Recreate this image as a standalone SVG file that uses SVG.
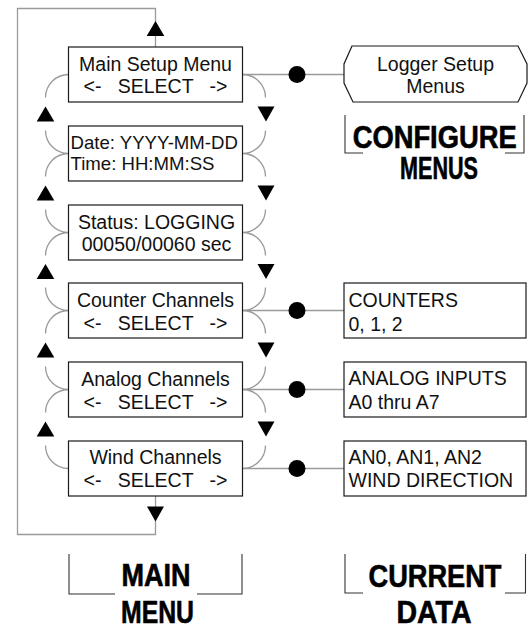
<svg xmlns="http://www.w3.org/2000/svg" xmlns:xlink="http://www.w3.org/1999/xlink" width="532" height="626" viewBox="0 0 532 626">
<style>
.bg{fill:#ffffff}
.box{fill:#ffffff;stroke:#1a1a1a;stroke-width:1.2}
.gl{fill:none;stroke:#9a9a9a;stroke-width:1.3}
.br{fill:none;stroke:#333333;stroke-width:1.1}
.t{font-family:"Liberation Sans",Arial,sans-serif;font-size:19.5px;fill:#111111}
.tc{text-anchor:middle}
.b{font-family:"Liberation Sans",Arial,sans-serif;font-size:31px;font-weight:bold;fill:#000000;stroke:#000000;stroke-width:0.6;text-anchor:middle}
.ar{fill:#000000}
.dot{fill:#000000}
</style>
<defs>
<path id="up" d="M0,-7.5 L8.8,7.5 L-8.8,7.5 Z"/>
<path id="dn" d="M0,7.5 L8.5,-7.5 L-8.5,-7.5 Z"/>
</defs>
<rect class="bg" x="0" y="0" width="532" height="626"/>
<g id="connectors">
<polyline class="gl" points="155.5,47 155.5,8.5 17.5,8.5 17.5,534.5 155.5,534.5 155.5,496"/>
<use href="#up" xlink:href="#up" class="ar" x="155.5" y="28.5"/>
<use href="#dn" xlink:href="#dn" class="ar" x="155.5" y="514"/>
<path class="gl" d="M68.5,74.5 A23,23 0 0 0 45.5,97.5 M45.5,130.5 A23,23 0 0 0 68.5,153.5 M68.5,153.5 A23,23 0 0 0 45.5,176.5 M45.5,209.5 A23,23 0 0 0 68.5,232.5 M68.5,232.5 A23,23 0 0 0 45.5,255.5 M45.5,287.5 A23,23 0 0 0 68.5,310.5 M68.5,310.5 A23,23 0 0 0 45.5,333.5 M45.5,366.5 A23,23 0 0 0 68.5,389.5 M68.5,389.5 A23,23 0 0 0 45.5,412.5 M45.5,445.5 A23,23 0 0 0 68.5,468.5"/>
<path class="gl" d="M242.5,74.5 A23,23 0 0 1 265.5,97.5 M265.5,130.5 A23,23 0 0 1 242.5,153.5 M242.5,153.5 A23,23 0 0 1 265.5,176.5 M265.5,209.5 A23,23 0 0 1 242.5,232.5 M242.5,232.5 A23,23 0 0 1 265.5,255.5 M265.5,287.5 A23,23 0 0 1 242.5,310.5 M242.5,310.5 A23,23 0 0 1 265.5,333.5 M265.5,366.5 A23,23 0 0 1 242.5,389.5 M242.5,389.5 A23,23 0 0 1 265.5,412.5 M265.5,445.5 A23,23 0 0 1 242.5,468.5"/>
<use href="#up" xlink:href="#up" class="ar" x="45.5" y="114"/>
<use href="#up" xlink:href="#up" class="ar" x="45.5" y="193"/>
<use href="#up" xlink:href="#up" class="ar" x="45.5" y="271.5"/>
<use href="#up" xlink:href="#up" class="ar" x="45.5" y="350"/>
<use href="#up" xlink:href="#up" class="ar" x="45.5" y="429"/>
<use href="#dn" xlink:href="#dn" class="ar" x="266" y="114"/>
<use href="#dn" xlink:href="#dn" class="ar" x="266" y="193"/>
<use href="#dn" xlink:href="#dn" class="ar" x="266" y="271.5"/>
<use href="#dn" xlink:href="#dn" class="ar" x="266" y="350"/>
<use href="#dn" xlink:href="#dn" class="ar" x="266" y="429"/>
<path class="gl" d="M242.5,74.5 H344 M242.5,310.5 H344 M242.5,389.5 H344 M242.5,468.5 H344"/>
<circle class="dot" cx="297" cy="74.5" r="8.5"/>
<circle class="dot" cx="297" cy="310.5" r="8.5"/>
<circle class="dot" cx="297" cy="389.5" r="8.5"/>
<circle class="dot" cx="297" cy="468.5" r="8.5"/>
</g>
<g id="main-setup">
<rect class="box" x="68.5" y="47" width="174" height="55"/>
<text class="t tc" x="155.5" y="70.5">Main Setup Menu</text>
<text class="t tc" x="155.5" y="93" xml:space="preserve" style="white-space:pre">&lt;-   SELECT   -&gt;</text>
</g>
<g id="date-time">
<rect class="box" x="68.5" y="126" width="174" height="55"/>
<text class="t" x="70.5" y="149" style="font-size:18.6px">Date: YYYY-MM-DD</text>
<text class="t" x="70.5" y="169.5" style="font-size:18.6px">Time: HH:MM:SS</text>
</g>
<g id="status">
<rect class="box" x="68.5" y="205" width="174" height="55"/>
<text class="t tc" x="156.5" y="228.5">Status: LOGGING</text>
<text class="t tc" x="156.5" y="251">00050/00060 sec</text>
</g>
<g id="counter-channels">
<rect class="box" x="68.5" y="283" width="174" height="55"/>
<text class="t tc" x="155.5" y="306.5">Counter Channels</text>
<text class="t tc" x="155.5" y="329.5" xml:space="preserve" style="white-space:pre">&lt;-   SELECT   -&gt;</text>
</g>
<g id="analog-channels">
<rect class="box" x="68.5" y="362" width="174" height="55"/>
<text class="t tc" x="155.5" y="385.5">Analog Channels</text>
<text class="t tc" x="155.5" y="408.5" xml:space="preserve" style="white-space:pre">&lt;-   SELECT   -&gt;</text>
</g>
<g id="wind-channels">
<rect class="box" x="68.5" y="441" width="174" height="55"/>
<text class="t tc" x="155.5" y="464">Wind Channels</text>
<text class="t tc" x="155.5" y="487" xml:space="preserve" style="white-space:pre">&lt;-   SELECT   -&gt;</text>
</g>
<g id="logger-setup">
<polygon class="box" points="352,46 344,64 344,83 353,102 518,102 527,83 527,64 518,46"/>
<text class="t tc" x="435.5" y="70.5">Logger Setup</text>
<text class="t tc" x="435.5" y="93">Menus</text>
</g>
<g id="counters">
<rect class="box" x="344" y="283" width="182" height="55"/>
<text class="t" x="348.5" y="306.5">COUNTERS</text>
<text class="t" x="348.5" y="330.5">0, 1, 2</text>
</g>
<g id="analog-inputs">
<rect class="box" x="344" y="362" width="182" height="55"/>
<text class="t" x="348.5" y="384.5">ANALOG INPUTS</text>
<text class="t" x="348.5" y="408.5">A0 thru A7</text>
</g>
<g id="wind-direction">
<rect class="box" x="344" y="441" width="182" height="55"/>
<text class="t" x="348.5" y="463.5">AN0, AN1, AN2</text>
<text class="t" x="348.5" y="487">WIND DIRECTION</text>
</g>
<g id="configure-menus">
<path class="br" d="M345,115 V153 H363 M524,115 V153 H505"/>
<text class="b" x="434.7" y="147.5" textLength="164" lengthAdjust="spacingAndGlyphs">CONFIGURE</text>
<text class="b" x="439" y="178.5" textLength="78" lengthAdjust="spacingAndGlyphs">MENUS</text>
</g>
<g id="main-menu">
<path class="br" d="M69,554 V594 H115 M242,554 V594 H197"/>
<text class="b" x="156" y="585.5" textLength="69" lengthAdjust="spacingAndGlyphs">MAIN</text>
<text class="b" x="157.5" y="622.5" textLength="73" lengthAdjust="spacingAndGlyphs">MENU</text>
</g>
<g id="current-data">
<path class="br" d="M345,554 V593 H363 M525.5,554 V593 H505"/>
<text class="b" x="435" y="587" textLength="133" lengthAdjust="spacingAndGlyphs">CURRENT</text>
<text class="b" x="434" y="622.5" textLength="75" lengthAdjust="spacingAndGlyphs">DATA</text>
</g>
</svg>
